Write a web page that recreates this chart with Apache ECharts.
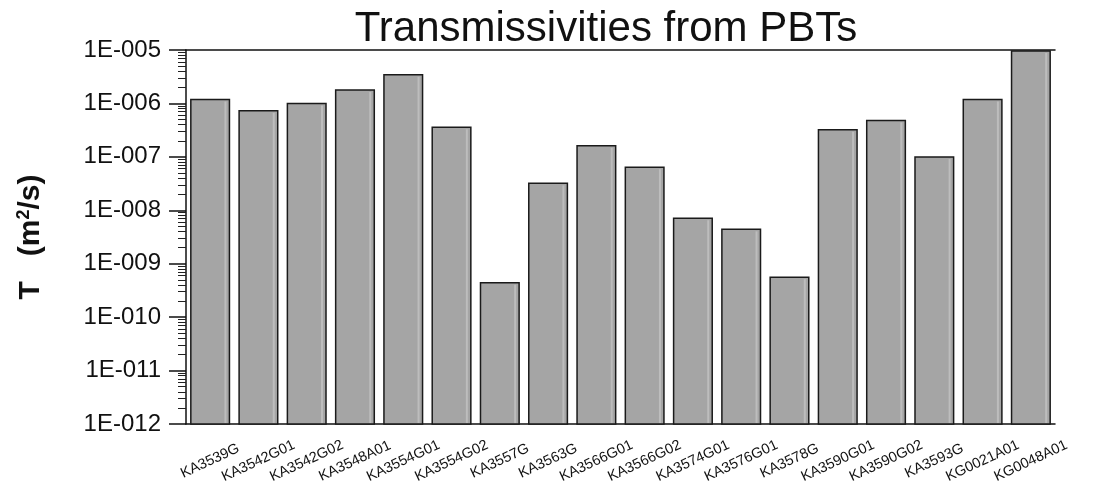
<!DOCTYPE html>
<html>
<head>
<meta charset="utf-8">
<script src="https://cdn.jsdelivr.net/npm/echarts@6/dist/echarts.min.js"></script>
<style>html,body{margin:0;padding:0;background:#fff}#c{width:1114px;height:496px}</style>
</head>
<body>
<div id="c"></div>
<script>
const categories = ['KA3539G','KA3542G01','KA3542G02','KA3548A01','KA3554G01','KA3554G02','KA3557G','KA3563G','KA3566G01','KA3566G02','KA3574G01','KA3576G01','KA3578G','KA3590G01','KA3590G02','KA3593G','KG0021A01','KG0048A01'];
const transmissivity = [1.18e-6, 7.3e-7, 1.0e-6, 1.79e-6, 3.43e-6, 3.6e-7, 4.4e-10, 3.2e-8, 1.62e-7, 6.4e-8, 7.1e-9, 4.4e-9, 5.6e-10, 3.2e-7, 4.8e-7, 9.9e-8, 1.18e-6, 9.6e-6];
const yTickLabels = ['1E-012','1E-011','1E-010','1E-009','1E-008','1E-007','1E-006','1E-005'];
const yMin = 1e-12, yMax = 1e-5;

const chart = echarts.init(document.getElementById('c'));
chart.setOption({
  animation: false,
  backgroundColor: '#fff',
  title: {
    text: 'Transmissivities from PBTs',
    left: 601, top: 3, textAlign: 'center',
    textStyle: { fontFamily: 'Liberation Sans', fontSize: 42, fontWeight: 'normal', color: '#111' }
  },
  grid: { left: 186, right: 59, top: 50, bottom: 72 },
  xAxis: [{
    type: 'category',
    data: categories,
    axisLine: { lineStyle: { color: '#111', width: 1.5 } },
    axisTick: { alignWithLabel: true, length: 17, lineStyle: { color: '#111', width: 1.5 } },
    axisLabel: { rotate: 25, align: 'center', verticalAlign: 'middle', fontFamily: 'Liberation Sans', fontSize: 14.5, color: '#111', margin: 37, interval: 0 }
  }, {
    type: 'category', position: 'top', data: categories,
    axisLine: { show: true, lineStyle: { color: '#111', width: 1.5 } },
    axisTick: { show: false }, axisLabel: { show: false }
  }],
  yAxis: {
    type: 'log', logBase: 10, min: yMin, max: yMax,
    name: '{a|T   (m}{s|2}{a|/s)}',
    nameLocation: 'middle', nameGap: 140, nameRotate: 90,
    nameTextStyle: {
      rich: {
        a: { fontFamily: 'Liberation Sans', fontSize: 30, fontWeight: 'bold', color: '#111' },
        s: { fontFamily: 'Liberation Sans', fontSize: 18, fontWeight: 'bold', color: '#111', verticalAlign: 'top', padding: [0, 0, 13, 0] }
      }
    },
    axisLine: { show: true, lineStyle: { color: '#111', width: 1.5 } },
    axisTick: { show: true, length: 17, lineStyle: { color: '#111', width: 1.5 } },
    minorTick: { show: true, splitNumber: 9, length: 8, lineStyle: { color: '#222' } },
    splitLine: { show: false },
    axisLabel: {
      fontFamily: 'Liberation Sans', fontSize: 24, color: '#111', margin: 25,
      formatter: function (v) {
        const e = Math.round(Math.log10(v));
        return yTickLabels[e + 12] || '';
      }
    }
  },
  series: [{
    type: 'custom',
    data: transmissivity.map((v, i) => [i, v]),
    encode: { x: 0, y: 1 },
    renderItem: function (params, api) {
      const i = api.value(0), v = api.value(1);
      const top = api.coord([i, v]);
      const bot = api.coord([i, yMin]);
      const w = api.size([1, v])[0] * 0.8;
      return {
        type: 'group',
        children: [{
          type: 'rect',
          shape: { x: top[0] - w / 2, y: top[1], width: w, height: bot[1] - top[1] },
          style: { fill: '#a5a5a5', stroke: '#1a1a1a', lineWidth: 1.5 }
        }, {
          type: 'rect',
          shape: { x: top[0] + w / 2 - 5, y: top[1] + 2, width: 2, height: bot[1] - top[1] - 3 },
          style: { fill: '#bdbdbd' }
        }]
      };
    }
  }]
});
</script>
</body>
</html>
